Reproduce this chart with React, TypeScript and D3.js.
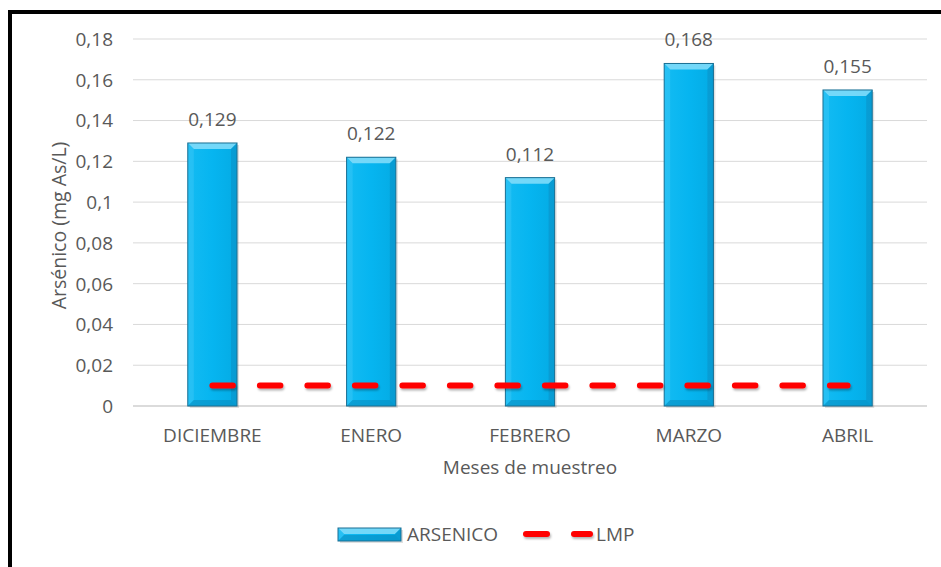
import React from "react";
import * as d3 from "d3";

const categories = ["DICIEMBRE", "ENERO", "FEBRERO", "MARZO", "ABRIL"];
const arsenico = [0.129, 0.122, 0.112, 0.168, 0.155];
const lmp = [0.01, 0.01, 0.01, 0.01, 0.01];
const yTicks = [0, 0.02, 0.04, 0.06, 0.08, 0.1, 0.12, 0.14, 0.16, 0.18];
const yTitle = "Arsénico (mg As/L)";
const xTitle = "Meses de muestreo";
const seriesNames = ["ARSENICO", "LMP"];

const W = 941, H = 567;
const FONT = "'Open Sans', sans-serif";
const TXT = "#595959";
const FS = 19;

const fmt = (v: number) => String(v).replace(".", ",");

function Bar({ x, y, w, h }: { x: number; y: number; w: number; h: number }) {
  const b = Math.min(6, h / 2);
  return (
    <g>
      <rect x={x + 2} y={y + 2} width={w} height={h} fill="#000" opacity={0.12} />
      <rect x={x} y={y} width={w} height={h} fill="url(#barGrad)" />
      <polygon points={`${x},${y} ${x + w},${y} ${x + w - b},${y + b} ${x + b},${y + b}`} fill="#7fdcfa" opacity={0.9} />
      <polygon points={`${x},${y} ${x + b},${y + b} ${x + b},${y + h - b} ${x},${y + h}`} fill="#33c4f5" opacity={0.6} />
      <polygon points={`${x + w},${y} ${x + w - b},${y + b} ${x + w - b},${y + h - b} ${x + w},${y + h}`} fill="#0d8fc4" opacity={0.55} />
      <polygon points={`${x},${y + h} ${x + b},${y + h - b} ${x + w - b},${y + h - b} ${x + w},${y + h}`} fill="#0a86b8" opacity={0.5} />
      <rect x={x} y={y} width={w} height={h} fill="none" stroke="#1a6f93" strokeWidth={1} />
    </g>
  );
}

export default function App() {
  const x0 = 133, x1 = 927, yTop = 39, yBot = 406;
  const x = d3.scaleBand<string>().domain(categories).range([x0, x1]).paddingInner(0.69).paddingOuter(0.345);
  const y = d3.scaleLinear().domain([0, 0.18]).range([yBot, yTop]);
  const cx = (c: string) => (x(c) as number) + x.bandwidth() / 2;
  const line = d3.line<number>().x((_, i) => cx(categories[i])).y((d) => y(d));

  return (
    <div style={{ position: "fixed", left: 0, top: 0 }}>
      <svg width={W} height={H} style={{ display: "block", background: "#fff" }}>
        <defs>
          <linearGradient id="barGrad" x1="0" x2="1" y1="0" y2="0">
            <stop offset="0" stopColor="#14bbf2" />
            <stop offset="0.5" stopColor="#06b5f0" />
            <stop offset="1" stopColor="#04abe4" />
          </linearGradient>
          <filter id="shadow" filterUnits="userSpaceOnUse" x={0} y={0} width={W} height={H}>
            <feDropShadow dx="1" dy="2" stdDeviation="1.2" floodColor="#000" floodOpacity="0.3" />
          </filter>
        </defs>
        <rect x={10} y={12} width={W} height={H} fill="none" stroke="#000" strokeWidth={4} />
        {yTicks.map((t) => (
          <g key={t}>
            <line x1={x0} x2={x1} y1={y(t)} y2={y(t)} stroke={t === 0 ? "#cfcfcf" : "#d9d9d9"} strokeWidth={t === 0 ? 1.5 : 1} />
            <text x={113} y={y(t)} dy="0.36em" textAnchor="end" fontFamily={FONT} fontSize={FS} fill={TXT}>{fmt(t)}</text>
          </g>
        ))}
        {categories.map((c, i) => (
          <g key={c}>
            <Bar x={x(c) as number} y={y(arsenico[i])} w={x.bandwidth()} h={yBot - y(arsenico[i])} />
            <text x={cx(c)} y={y(arsenico[i]) - 17} textAnchor="middle" fontFamily={FONT} fontSize={FS} fill={TXT}>{fmt(arsenico[i])}</text>
            <text x={cx(c)} y={442} textAnchor="middle" fontFamily={FONT} fontSize={FS} fill={TXT}>{c}</text>
          </g>
        ))}
        <path d={line(lmp) || ""} fill="none" stroke="#ff0000" strokeWidth={6} strokeLinecap="round" strokeDasharray="20.5 27" filter="url(#shadow)" />
        <text x={530} y={474} textAnchor="middle" fontFamily={FONT} fontSize={FS} fill={TXT}>{xTitle}</text>
        <text transform={`translate(66,${(yTop + yBot) / 2 + 3}) rotate(-90)`} textAnchor="middle" fontFamily={FONT} fontSize={19.5} fill={TXT}>{yTitle}</text>
        <g>
          <Bar x={338} y={528} w={63} h={13} />
          <text x={407} y={534} dy="0.36em" fontFamily={FONT} fontSize={FS} fill={TXT}>{seriesNames[0]}</text>
          <line x1={526} x2={547} y1={534} y2={534} stroke="#ff0000" strokeWidth={6} strokeLinecap="round" filter="url(#shadow)" />
          <line x1={574} x2={590} y1={534} y2={534} stroke="#ff0000" strokeWidth={6} strokeLinecap="round" filter="url(#shadow)" />
          <text x={596} y={534} dy="0.36em" fontFamily={FONT} fontSize={FS} fill={TXT}>{seriesNames[1]}</text>
        </g>
      </svg>
    </div>
  );
}
